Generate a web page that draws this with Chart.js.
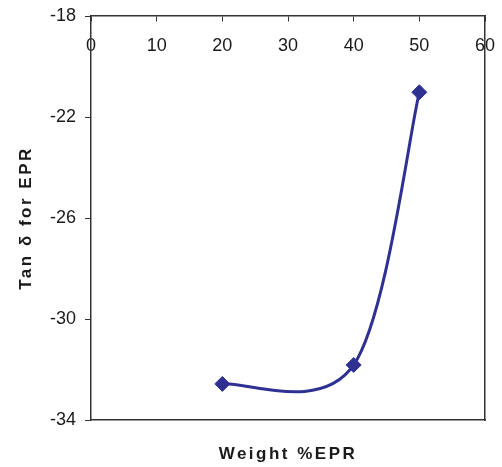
<!DOCTYPE html>
<html><head><meta charset="utf-8">
<script src="https://cdn.jsdelivr.net/npm/chart.js@4"></script>
<style>html,body{margin:0;padding:0;background:#fff}#wrap{width:502px;height:467px;position:relative}</style>
</head><body><div id="wrap"><canvas id="c"></canvas></div>
<script>
const weightPct = [20, 40, 50];
const tanDelta = [-32.57, -31.82, -21.02];
const xTickValues = [0, 10, 20, 30, 40, 50, 60];
const yTickValues = [-18, -22, -26, -30, -34];
const xTitle = 'Weight %EPR';
const yTitle = 'Tan δ for EPR';

const FONT = 'Liberation Sans, Arial, sans-serif';
const LINE = '#2E3192';
const AXIS = '#333333';
const TXT = '#1a1a1a';

const points = weightPct.map((w, i) => ({x: w, y: tanDelta[i]}));

// Excel-style smoothing: Catmull-Rom control points (1/6 of neighbour span),
// computed from the pixel positions that Chart.js gives each point.
const excelSmooth = {
  id: 'excelSmooth',
  beforeDatasetsDraw(chart) {
    chart.data.datasets.forEach((ds, i) => {
      const meta = chart.getDatasetMeta(i);
      const line = meta.dataset, pts = meta.data;
      if (!line || !pts.length) return;
      line.updateControlPoints(chart.chartArea, 'x');
      const n = pts.length;
      for (let k = 0; k < n; k++) {
        const p = pts[k], prev = pts[Math.max(k - 1, 0)], next = pts[Math.min(k + 1, n - 1)];
        const dx = (next.x - prev.x) / 6, dy = (next.y - prev.y) / 6;
        p.cp1x = p.x - dx; p.cp1y = p.y - dy;
        p.cp2x = p.x + dx; p.cp2y = p.y + dy;
      }
    });
  }
};

// letter-spaced axis titles, as in the reference
const spacedTitles = {
  id: 'spacedTitles',
  afterUpdate(chart) {
    ['x2', 'y'].forEach(id => {
      const s = chart.scales[id];
      if (s && !s._spaced) {
        const orig = s.drawTitle.bind(s);
        s.drawTitle = function () {
          const c = this.ctx; c.save(); c.letterSpacing = '2.5px'; orig(); c.restore();
        };
        s._spaced = true;
      }
    });
  }
};

new Chart(document.getElementById('c'), {
  type: 'scatter',
  plugins: [excelSmooth, spacedTitles],
  data: {
    datasets: [{
      data: points,
      showLine: true,
      tension: 0.4,
      borderColor: LINE,
      borderWidth: 3,
      backgroundColor: LINE,
      pointStyle: 'rectRot',
      pointRadius: 7.5,
      pointBorderWidth: 1,
      pointBackgroundColor: LINE,
      pointBorderColor: LINE,
      clip: false,
      xAxisID: 'x',
      yAxisID: 'y'
    }]
  },
  options: {
    responsive: true,
    maintainAspectRatio: false,
    animation: false,
    layout: {padding: {top: 16, left: 0, right: 0, bottom: 0}},
    plugins: {legend: {display: false}, tooltip: {enabled: false}},
    scales: {
      x: {
        type: 'linear', position: {y: -18},
        min: xTickValues[0], max: xTickValues[xTickValues.length - 1],
        afterBuildTicks: s => { s.ticks = xTickValues.map(v => ({value: v})); },
        ticks: {font: {family: FONT, size: 18}, color: TXT, padding: 14, autoSkip: false, maxRotation: 0},
        grid: {drawOnChartArea: false, tickLength: 5, color: AXIS, lineWidth: 1},
        border: {display: true, color: AXIS, width: 1.5},
        afterFit: s => { s.paddingLeft = 0; s.paddingRight = 0; }
      },
      x2: {
        type: 'linear', position: 'bottom',
        ticks: {display: false},
        grid: {drawOnChartArea: false, drawTicks: false},
        border: {display: true, color: AXIS, width: 1.5},
        title: {display: true, text: xTitle, font: {family: FONT, size: 17, weight: 'bold'}, color: TXT, padding: {top: 0, bottom: 2}},
        afterFit: s => { s.height = 47; s.paddingLeft = 0; s.paddingRight = 0; }
      },
      y: {
        type: 'linear', position: 'left',
        min: -34, max: -18,
        afterBuildTicks: s => { s.ticks = yTickValues.map(v => ({value: v})); },
        ticks: {font: {family: FONT, size: 18}, color: TXT, padding: 9},
        grid: {drawOnChartArea: false, tickLength: 6, color: AXIS, lineWidth: 1},
        border: {display: true, color: AXIS, width: 1.5},
        title: {display: true, text: yTitle, font: {family: FONT, size: 17, weight: 'bold'}, color: TXT, padding: {top: 16, bottom: 0}},
        afterFit: s => { s.width = 91; s.paddingTop = 0; s.paddingBottom = 0; }
      },
      y2: {
        type: 'linear', position: 'right',
        ticks: {display: false},
        grid: {drawOnChartArea: false, drawTicks: false},
        border: {display: true, color: AXIS, width: 1.5},
        afterFit: s => { s.width = 17; }
      }
    }
  }
});
</script></body></html>
